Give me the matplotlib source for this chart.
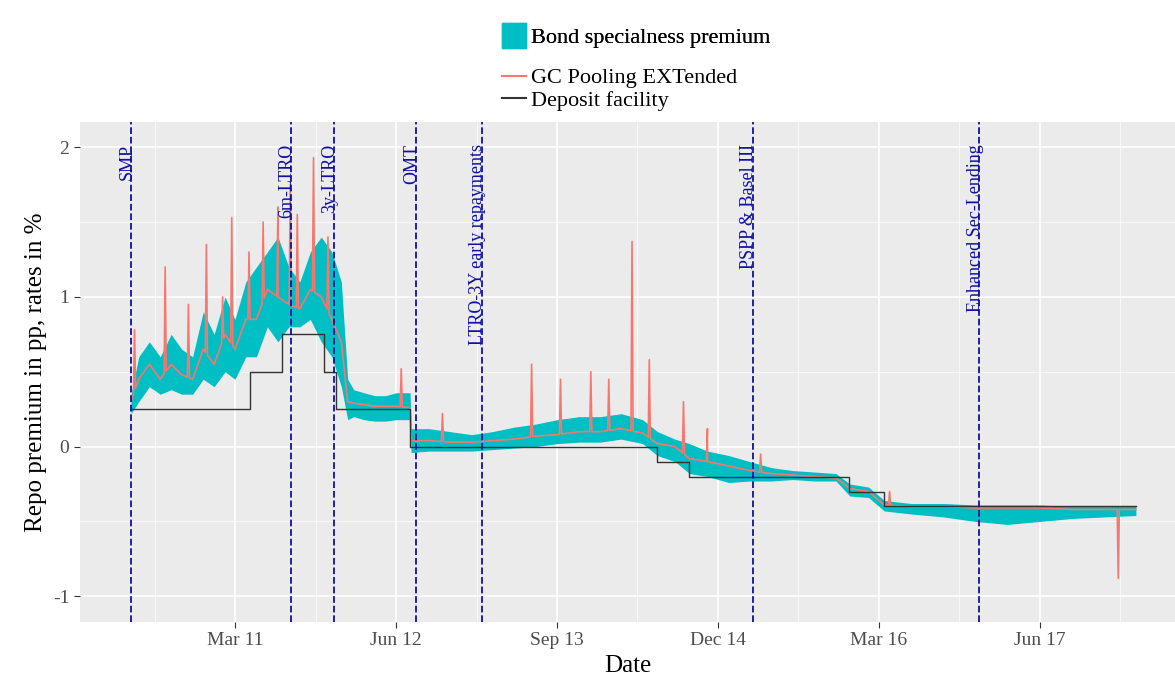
import matplotlib
matplotlib.use("Agg")
from matplotlib import pyplot as plt
from matplotlib.patches import Patch
from matplotlib.lines import Line2D
import numpy as np
import pandas as pd

plt.rcParams['font.family'] = ['Liberation Serif', 'DejaVu Serif']

# monthly base level of GC Pooling and the specialness band (lower / upper)
base_dates = ["2010-05-10", "2010-06-01", "2010-07-01", "2010-08-01", "2010-09-01", "2010-10-01",
              "2010-11-01", "2010-12-01", "2011-01-01", "2011-02-01", "2011-03-01", "2011-04-01",
              "2011-05-01", "2011-06-01", "2011-07-01", "2011-08-01", "2011-09-01", "2011-10-01",
              "2011-11-01", "2011-12-01", "2011-12-28", "2012-01-15", "2012-02-01", "2012-03-01",
              "2012-04-01", "2012-05-01", "2012-06-01", "2012-07-10", "2012-07-13", "2012-09-01",
              "2012-11-01", "2013-01-01", "2013-03-01", "2013-05-01", "2013-07-01", "2013-09-01",
              "2013-11-01", "2014-01-01", "2014-03-01", "2014-05-01", "2014-06-12", "2014-08-01",
              "2014-09-11", "2014-11-01", "2015-01-01", "2015-03-01", "2015-05-01", "2015-07-01",
              "2015-09-01", "2015-11-01", "2015-12-10", "2016-02-01", "2016-03-17", "2016-06-01",
              "2016-09-01", "2016-12-01", "2017-03-01", "2017-06-01", "2017-09-01", "2017-12-01",
              "2018-03-01"]
gc_base = [0.30, 0.45, 0.55, 0.45, 0.55, 0.48, 0.45, 0.65, 0.55, 0.75, 0.65, 0.85,
           0.85, 1.05, 1.00, 0.95, 0.92, 1.05, 1.00, 0.85, 0.70, 0.30, 0.29, 0.28,
           0.27, 0.27, 0.27, 0.26, 0.04, 0.04, 0.03, 0.03, 0.04, 0.05, 0.07, 0.08,
           0.10, 0.10, 0.12, 0.09, 0.02, 0.00, -0.08, -0.10, -0.13, -0.16, -0.18, -0.19,
           -0.20, -0.21, -0.28, -0.30, -0.39, -0.40, -0.40, -0.41, -0.41, -0.41, -0.42, -0.42,
           -0.42]
band_lo = [0.22, 0.30, 0.40, 0.35, 0.38, 0.35, 0.35, 0.45, 0.40, 0.50, 0.45, 0.60,
           0.60, 0.80, 0.70, 0.80, 0.80, 0.85, 0.70, 0.60, 0.40, 0.18, 0.20, 0.18,
           0.17, 0.17, 0.18, 0.18, -0.04, -0.03, -0.03, -0.03, -0.02, -0.01, 0.00, 0.02,
           0.03, 0.03, 0.05, 0.02, -0.06, -0.10, -0.18, -0.20, -0.24, -0.23, -0.23, -0.22,
           -0.23, -0.23, -0.33, -0.34, -0.43, -0.45, -0.47, -0.50, -0.52, -0.50, -0.48, -0.47,
           -0.46]
band_hi = [0.35, 0.60, 0.70, 0.60, 0.75, 0.65, 0.60, 0.90, 0.75, 1.00, 0.85, 1.10,
           1.20, 1.30, 1.40, 1.20, 1.10, 1.30, 1.40, 1.30, 1.10, 0.45, 0.38, 0.36,
           0.34, 0.34, 0.36, 0.36, 0.12, 0.12, 0.10, 0.08, 0.10, 0.13, 0.15, 0.18,
           0.20, 0.20, 0.22, 0.18, 0.10, 0.05, 0.02, -0.03, -0.06, -0.10, -0.14, -0.16,
           -0.17, -0.18, -0.25, -0.27, -0.36, -0.38, -0.38, -0.39, -0.39, -0.39, -0.40, -0.40,
           -0.40]

# spikes in GC Pooling
spike_dates = ["2010-05-20", "2010-08-15", "2010-10-20", "2010-12-10", "2011-01-25", "2011-02-20",
               "2011-04-10", "2011-05-20", "2011-07-01", "2011-08-05", "2011-08-25", "2011-10-10",
               "2011-11-20", "2012-06-15", "2012-10-10", "2013-06-20", "2013-09-10", "2013-12-05",
               "2014-01-25", "2014-04-01", "2014-05-20", "2014-08-25", "2014-11-01", "2015-04-01",
               "2016-04-01", "2018-01-10"]
spike_vals = [0.78, 1.20, 0.95, 1.35, 1.00, 1.53, 1.30, 1.50, 1.60, 1.75, 1.55, 1.93,
              1.40, 0.52, 0.22, 0.55, 0.45, 0.50, 0.45, 1.37, 0.58, 0.30, 0.12, -0.05,
              -0.30, -0.88]

# ECB deposit facility rate
dep_dates = ["2010-05-10", "2011-04-13", "2011-07-13", "2011-11-09", "2011-12-14", "2012-07-11",
             "2014-06-11", "2014-09-10", "2015-12-09", "2016-03-16", "2018-03-01"]
dep_rates = [0.25, 0.50, 0.75, 0.50, 0.25, 0.00, -0.10, -0.20, -0.30, -0.40, -0.40]

events = ["SMP", "6m-LTRO", "3y-LTRO", "OMT", "LTRO-3Y early repayments",
          "PSPP & Basel III", "Enhanced Sec-Lending"]
event_dates = ["2010-05-10", "2011-08-08", "2011-12-08", "2012-07-28", "2013-01-30",
               "2015-03-09", "2016-12-12"]

bd = pd.to_datetime(base_dates)
gc = pd.Series(gc_base, index=bd)
sp = pd.Series(spike_vals, index=pd.to_datetime(spike_dates))
# gc line: base interpolated at spike dates for the shoulders
shoulders = []
for d in sp.index:
    for off in (-3, 3):
        shoulders.append(d + pd.Timedelta(days=off))
allidx = gc.index.union(pd.DatetimeIndex(shoulders))
gc_line = gc.reindex(allidx).interpolate(method="time")
gc_line = pd.concat([gc_line, sp]).sort_index()

fig = plt.figure(figsize=(11.75, 6.84), dpi=100)
ax = fig.add_axes([0.068, 0.091, 0.932, 0.731])
ax.set_facecolor("#ebebeb")
ax.grid(True, color="white", linewidth=1.2)
ax.grid(True, which="minor", color="white", linewidth=0.5)
ax.set_axisbelow(True)
for s in ax.spines.values():
    s.set_visible(False)

ax.fill_between(bd, band_lo, band_hi, color="#00bfc4", linewidth=0)
ax.plot(gc_line.index, gc_line.values, color="#f8766d", linewidth=1.2)
ax.step(pd.to_datetime(dep_dates), dep_rates, where="post", color="#333333", linewidth=1)

for name, d in zip(events, event_dates):
    d = pd.Timestamp(d)
    ax.axvline(d, color="#1010a0", linestyle="--", linewidth=1.3)
    ax.text(d - pd.Timedelta(days=12), 2.02, name, rotation=90, ha="center", va="top",
            color="#1010a0", fontsize=13)

ax.set_xlim(pd.Timestamp("2009-12-16"), pd.Timestamp("2018-06-20"))
ax.set_ylim(-1.17, 2.17)
ticks = pd.to_datetime(["2011-03-01", "2012-06-01", "2013-09-01", "2014-12-01", "2016-03-01", "2017-06-01"])
ax.set_xticks(ticks)
ax.set_xticklabels(["Mar 11", "Jun 12", "Sep 13", "Dec 14", "Mar 16", "Jun 17"])
minor = pd.to_datetime(["2010-07-16", "2011-10-16", "2013-01-16", "2014-04-16", "2015-07-16", "2016-10-16", "2018-01-16"])
ax.set_xticks(minor, minor=True)
ax.set_yticks([-1, 0, 1, 2])
ax.set_yticklabels(["-1", "0", "1", "2"])
ax.set_yticks([-0.5, 0.5, 1.5], minor=True)
ax.tick_params(axis="both", which="major", labelsize=14, color="#333333", length=4, labelcolor="#4d4d4d")
ax.tick_params(which="minor", length=0)
ax.set_xlabel("Date", fontsize=18)
ax.set_ylabel("Repo premium in pp, rates in %", fontsize=18)

leg1 = fig.legend(handles=[Patch(color="#00bfc4", label="Bond specialness premium")],
                  loc="upper left", bbox_to_anchor=(0.41, 0.995), frameon=False,
                  fontsize=16, handlelength=1.1, handleheight=1.3, handletextpad=0.2)
fig.legend(handles=[Line2D([], [], color="#f8766d", label="GC Pooling EXTended"),
                    Line2D([], [], color="#333333", label="Deposit facility")],
           loc="upper left", bbox_to_anchor=(0.41, 0.93), frameon=False,
           fontsize=16, handlelength=1.1, handletextpad=0.2, labelspacing=0.1)
fig.add_artist(leg1)

plt.savefig("out.png")
